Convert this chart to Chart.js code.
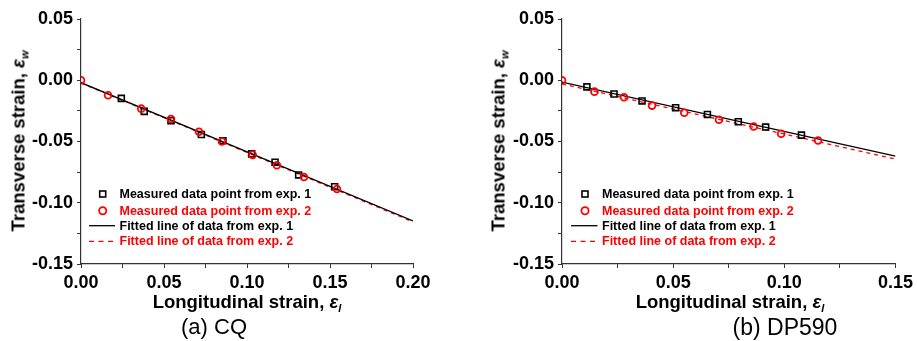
<!DOCTYPE html>
<html>
<head>
<meta charset="utf-8">
<script src="https://cdn.jsdelivr.net/npm/chart.js@4/dist/chart.umd.min.js"></script>
<style>
  html, body { margin: 0; padding: 0; background: #fff; }
  #wrap { position: relative; width: 917px; height: 341px; overflow: hidden; font-family: "Liberation Sans", Arial, sans-serif; }
  canvas { position: absolute; top: 0; }
  .lbl { position: absolute; white-space: nowrap; color: #000; }
  .axt { font-weight: bold; font-size: 18.5px; transform: translate(-50%, -50%); }
  .axt.rot { transform: translate(-50%, -50%) rotate(-90deg); }
  .axt i { font-style: italic; }
  .axt sub { font-size: 11px; vertical-align: -4px; }
  .cap { font-size: 22px; transform: translate(-50%, -50%); }
  .leg { font-weight: bold; font-size: 12.5px; transform: translateY(-50%); }
  .red { color: #ff0000; }
  svg.mk { position: absolute; overflow: visible; }
</style>
</head>
<body>
<div id="wrap">
  <canvas id="cq" width="460" height="341" style="left:0"></canvas>
  <canvas id="dp" width="457" height="341" style="left:460px"></canvas>

  <div class="lbl axt rot" style="left:18.5px; top:141px">Transverse strain, <i>ε<sub>w</sub></i></div>
  <div class="lbl axt" style="left:247px; top:302px">Longitudinal strain, <i>ε<sub>l</sub></i></div>
  <div class="lbl cap" style="left:214px; top:327px">(a) CQ</div>

  <div class="lbl axt rot" style="left:499px; top:141px">Transverse strain, <i>ε<sub>w</sub></i></div>
  <div class="lbl axt" style="left:730px; top:302px">Longitudinal strain, <i>ε<sub>l</sub></i></div>
  <div class="lbl cap" style="left:785px; top:327px; font-size:23px">(b) DP590</div>

  <svg class="mk" width="917" height="341" style="left:0; top:0">
    <rect x="99.7" y="191" width="6" height="6" fill="none" stroke="#000" stroke-width="1.6"/>
    <circle cx="102.7" cy="210.7" r="3.6" fill="none" stroke="#ff0000" stroke-width="1.8"/>
    <line x1="89" y1="225.7" x2="115" y2="225.7" stroke="#000" stroke-width="1.3"/>
    <line x1="89" y1="241.3" x2="115" y2="241.3" stroke="#ff0000" stroke-width="1.3" stroke-dasharray="5 4.5"/>

    <rect x="582" y="191" width="6" height="6" fill="none" stroke="#000" stroke-width="1.6"/>
    <circle cx="585" cy="210.7" r="3.6" fill="none" stroke="#ff0000" stroke-width="1.8"/>
    <line x1="571" y1="225.7" x2="597.5" y2="225.7" stroke="#000" stroke-width="1.3"/>
    <line x1="571" y1="241.3" x2="597.5" y2="241.3" stroke="#ff0000" stroke-width="1.3" stroke-dasharray="5 4.5"/>
  </svg>

  <div class="lbl leg" style="left:119.5px; top:194px">Measured data point from exp. 1</div>
  <div class="lbl leg red" style="left:119.5px; top:210.7px">Measured data point from exp. 2</div>
  <div class="lbl leg" style="left:119.5px; top:225.7px">Fitted line of data from exp. 1</div>
  <div class="lbl leg red" style="left:119.5px; top:241.3px">Fitted line of data from exp. 2</div>

  <div class="lbl leg" style="left:602px; top:194px">Measured data point from exp. 1</div>
  <div class="lbl leg red" style="left:602px; top:210.7px">Measured data point from exp. 2</div>
  <div class="lbl leg" style="left:602px; top:225.7px">Fitted line of data from exp. 1</div>
  <div class="lbl leg red" style="left:602px; top:241.3px">Fitted line of data from exp. 2</div>
</div>

<script>
// (a) CQ - measured points
const cqExp1X = [0.0243, 0.0381, 0.0542, 0.0725, 0.0855, 0.1028, 0.1169, 0.1311, 0.1528];
const cqExp1Y = [-0.0148, -0.0254, -0.0330, -0.0443, -0.0494, -0.0601, -0.0669, -0.0773, -0.0869];
const cqExp2X = [0, 0.0163, 0.0363, 0.0542, 0.0711, 0.0849, 0.1034, 0.1180, 0.1343, 0.1542];
const cqExp2Y = [0, -0.0123, -0.0232, -0.0317, -0.0421, -0.0500, -0.0609, -0.0694, -0.0790, -0.0888];
// (a) CQ - fitted line end points
const cqFitX = [0, 0.20];
const cqFit1Y = [-0.0020, -0.1148];
const cqFit2Y = [-0.0022, -0.1156];

// (b) DP590 - measured points
const dpExp1X = [0.0112, 0.0234, 0.0360, 0.0511, 0.0654, 0.0793, 0.0916, 0.1077];
const dpExp1Y = [-0.0054, -0.0112, -0.0169, -0.0224, -0.0279, -0.0339, -0.0382, -0.0448];
const dpExp2X = [0, 0.0146, 0.0279, 0.0405, 0.0550, 0.0706, 0.0862, 0.0986, 0.1152];
const dpExp2Y = [0, -0.0093, -0.0139, -0.0207, -0.0265, -0.0322, -0.0377, -0.0437, -0.0492];
// (b) DP590 - fitted line end points
const dpFitX = [0, 0.15];
const dpFit1Y = [-0.0015, -0.0620];
const dpFit2Y = [-0.0030, -0.0644];

// axis ranges
const yRange = [-0.15, 0.05];
const cqXRange = [0, 0.20];
const dpXRange = [0, 0.15];
const tickStep = 0.025; // labels only every 0.05

const FONT = '"Liberation Sans", Arial, sans-serif';
const zip = (xs, ys) => xs.map((x, i) => ({ x, y: ys[i] }));

function tickLabel(v) {
  const k = Math.round(v / tickStep);
  if (k % 2 !== 0) return '';
  const r = Math.round(v * 100) / 100;
  return (r === 0 ? 0 : r).toFixed(2);
}

function axis(range, fit) {
  return {
    type: 'linear',
    min: range[0], max: range[1],
    afterFit: fit,
    grid: { display: true, drawOnChartArea: false, drawTicks: true, tickLength: 4, color: '#333', tickWidth: 1 },
    border: { display: true, color: '#333', width: 1.2 },
    ticks: {
      stepSize: tickStep, autoSkip: false, maxRotation: 0, padding: 4,
      callback: tickLabel,
      color: '#000', font: { family: FONT, size: 18, weight: 'bold' }
    }
  };
}

function makeChart(id, exp1, exp2, fit1, fit2, xRange, yWidth, padRight) {
  new Chart(document.getElementById(id).getContext('2d'), {
    type: 'scatter',
    data: {
      datasets: [
        { label: 'Measured data point from exp. 2', data: exp2, pointStyle: 'circle', pointRadius: 3.4, borderColor: '#ff0000', backgroundColor: 'rgba(0,0,0,0)', borderWidth: 1.8 },
        { label: 'Measured data point from exp. 1', data: exp1, pointStyle: 'rect', pointRadius: 4.2, borderColor: '#000', backgroundColor: 'rgba(0,0,0,0)', borderWidth: 1.6 },
        { label: 'Fitted line of data from exp. 1', data: fit1, showLine: true, pointRadius: 0, borderColor: '#000', borderWidth: 1.3 },
        { label: 'Fitted line of data from exp. 2', data: fit2, showLine: true, pointRadius: 0, borderColor: '#ff0000', borderWidth: 1.3, borderDash: [4, 4] }
      ]
    },
    options: {
      responsive: false, animation: false, devicePixelRatio: 1,
      layout: { padding: { top: 19, right: padRight, left: 0, bottom: 0 } },
      plugins: { legend: { display: false }, tooltip: { enabled: false } },
      scales: {
        x: axis(xRange, s => { s.height = 77; }),
        y: axis(yRange, s => { s.width = yWidth; })
      }
    }
  });
}

makeChart('cq', zip(cqExp1X, cqExp1Y), zip(cqExp2X, cqExp2Y), zip(cqFitX, cqFit1Y), zip(cqFitX, cqFit2Y), cqXRange, 81, 47);
makeChart('dp', zip(dpExp1X, dpExp1Y), zip(dpExp2X, dpExp2Y), zip(dpFitX, dpFit1Y), zip(dpFitX, dpFit2Y), dpXRange, 102, 21);
</script>
</body>
</html>
